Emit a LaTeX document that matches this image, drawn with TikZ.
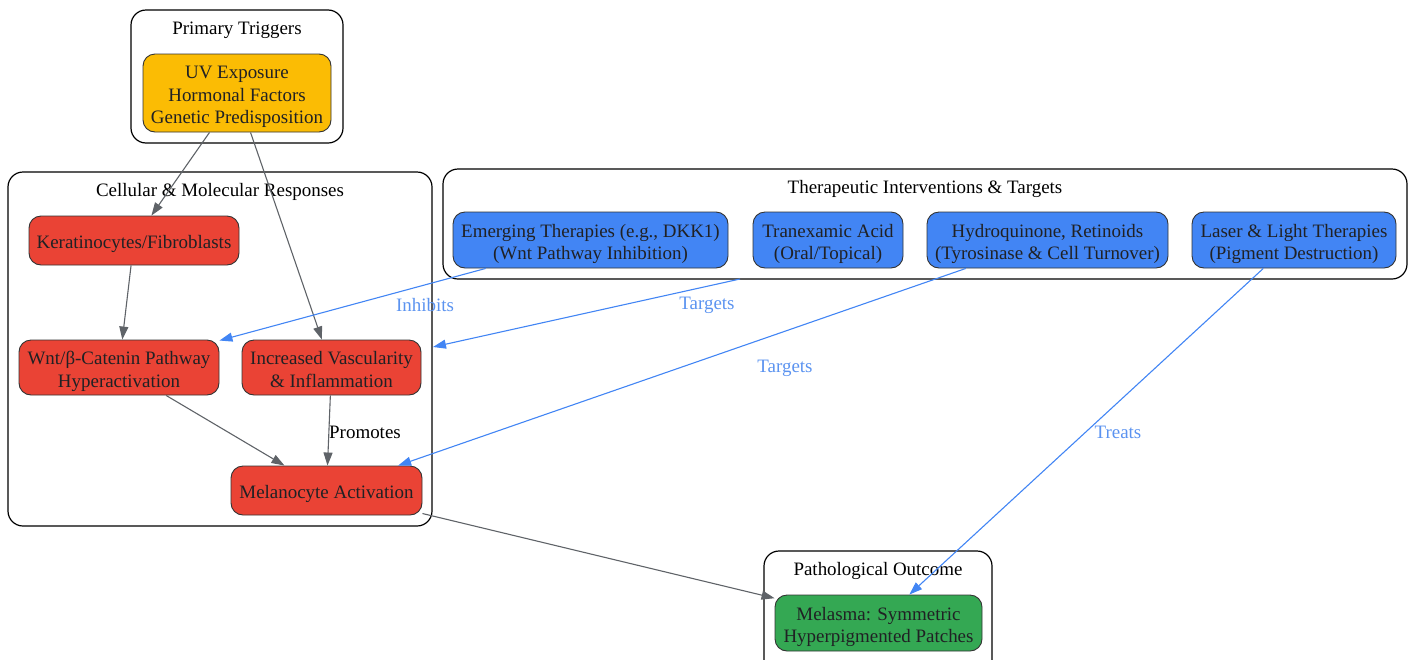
\documentclass[tikz,border=0pt]{standalone}
\usepackage{fontspec}
\setmainfont{Liberation Serif}
\usetikzlibrary{arrows.meta}
\definecolor{gred}{HTML}{EA4335}
\definecolor{gblue}{HTML}{4285F4}
\definecolor{ggreen}{HTML}{34A853}
\definecolor{gyellow}{HTML}{FBBC04}
\definecolor{ggray}{HTML}{5F6368}
\definecolor{gtext}{HTML}{202124}
\definecolor{gborder}{HTML}{333333}
\definecolor{glabel}{HTML}{5B93F0}
\newcommand{\boxstrut}{\rule[-4pt]{0pt}{23.5pt}}
\newcommand{\topstrut}{\rule{0pt}{21pt}}
\newcommand{\botstrut}{\rule[-4pt]{0pt}{4pt}}
\tikzset{
  box/.style={rectangle, rounded corners=12pt, draw=gborder, line width=0.9pt, text=gtext, align=center, inner sep=0pt,
    execute at begin node=\boxstrut, execute at end node=\boxstrut},
  cluster/.style={rectangle, rounded corners=15pt, draw=black, line width=1.2pt, inner sep=0pt},
  ctitle/.style={text=black, inner sep=0pt},
  gedge/.style={draw=ggray, line width=1.1pt, -{Triangle[length=13pt,width=9pt]}},
  bedge/.style={draw=gblue, line width=1.1pt, -{Triangle[length=13pt,width=9pt]}},
  blabel/.style={text=glabel, inner sep=0pt},
  klabel/.style={text=black, inner sep=0pt},
}
\begin{document}
\begin{tikzpicture}[x=1pt,y=-1pt,font=\fontsize{18.95}{22.5}\selectfont]
\useasboundingbox (0,0) rectangle (1412,659);
% clusters
\node[cluster, minimum width=212pt, minimum height=133pt] (cTrig) at (237,76.5) {};
\node[ctitle] (tTrig) at (237,30) {Primary Triggers};
\node[cluster, minimum width=424pt, minimum height=354pt] (cCell) at (220,349) {};
\node[ctitle] (tCell) at (220,192) {Cellular \& Molecular Responses};
\node[cluster, minimum width=964pt, minimum height=110pt] (cTher) at (925,224) {};
\node[ctitle] (tTher) at (925,189) {Therapeutic Interventions \& Targets};
\node[cluster, minimum width=228pt, minimum height=130pt] (cPath) at (878,616) {};
\node[ctitle] (tPath) at (878,571) {Pathological Outcome};
% nodes
\node[box, fill=gyellow, minimum width=188pt, minimum height=78pt] (uv) at (237,93) {\topstrut UV Exposure\\Hormonal Factors\\Genetic Predisposition\botstrut};
\node[box, fill=gred, minimum width=210pt, minimum height=49pt] (kera) at (134,240.5) {Keratinocytes/Fibroblasts};
\node[box, fill=gred, minimum width=200pt, minimum height=55pt] (wnt) at (119,367.5) {\topstrut Wnt/β-Catenin Pathway\\Hyperactivation\botstrut};
\node[box, fill=gred, minimum width=179pt, minimum height=55pt] (vasc) at (331.5,367.5) {\topstrut Increased Vascularity\\\& Inflammation\botstrut};
\node[box, fill=gred, minimum width=191pt, minimum height=49pt] (mel) at (326.5,490.5) {Melanocyte Activation};
\node[box, fill=gblue, minimum width=275pt, minimum height=56pt] (emer) at (590.5,240) {\topstrut Emerging Therapies (e.g., DKK1)\\(Wnt Pathway Inhibition)\botstrut};
\node[box, fill=gblue, minimum width=150pt, minimum height=56pt] (tran) at (828,240) {\topstrut Tranexamic Acid\\(Oral/Topical)\botstrut};
\node[box, fill=gblue, minimum width=241pt, minimum height=56pt] (hydro) at (1047.5,240) {\topstrut Hydroquinone, Retinoids\\(Tyrosinase \& Cell Turnover)\botstrut};
\node[box, fill=gblue, minimum width=204pt, minimum height=56pt] (laser) at (1294,240) {\topstrut Laser \& Light Therapies\\(Pigment Destruction)\botstrut};
\node[box, fill=ggreen, minimum width=207pt, minimum height=56pt] (melasma) at (878.5,623) {\topstrut Melasma: Symmetric\\Hyperpigmented Patches\botstrut};
% free ends on cluster borders
\coordinate (tranOut) at (740,279);
\coordinate (vascIn) at (433,347);
% gray edges
\draw[gedge] (uv) -- (kera);
\draw[gedge] (uv) -- (vasc);
\draw[gedge] (kera) -- (wnt);
\draw[gedge] (wnt) -- (mel);
\draw[gedge] (vasc) -- (mel);
\draw[gedge] (mel) -- (melasma);
% blue edges
\draw[bedge] (emer) -- (wnt);
\draw[bedge] (tranOut) -- (vascIn);
\draw[bedge] (hydro) -- (mel);
\draw[bedge] (laser) -- (melasma);
% labels
\node[klabel] (lProm) at (365,432) {Promotes};
\node[blabel] (lInh) at (425,305) {Inhibits};
\node[blabel] (lTar1) at (707,305) {Targets};
\node[blabel] (lTar2) at (785,368) {Targets};
\node[blabel] (lTreat) at (1118,432) {Treats};
\end{tikzpicture}
\end{document}
